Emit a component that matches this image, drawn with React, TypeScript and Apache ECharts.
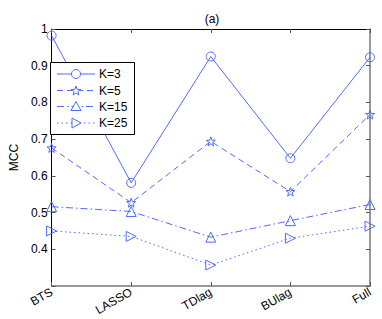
import React, { useEffect, useRef } from "react";
import * as echarts from "echarts";

const categories = ["BTS", "LASSO", "TDlag", "BUlag", "Full"];
const seriesNames = ["K=3", "K=5", "K=15", "K=25"];
const k3 = [0.982, 0.581, 0.925, 0.648, 0.923];
const k5 = [0.676, 0.527, 0.694, 0.557, 0.767];
const k15 = [0.516, 0.503, 0.433, 0.478, 0.522];
const k25 = [0.45, 0.435, 0.357, 0.43, 0.463];
const yTicks = [0.4, 0.5, 0.6, 0.7, 0.8, 0.9, 1];

const BLUE = "#4f6bff";
const FONT = "'Liberation Sans', Arial, Helvetica, sans-serif";

const STAR =
  "path://M0,-10 L2.35,-3.24 L9.51,-3.09 L3.8,1.24 L5.88,8.09 L0,4 L-5.88,8.09 L-3.8,1.24 L-9.51,-3.09 L-2.35,-3.24 Z";
const RTRI = "path://M0,0 L10,5 L0,10 Z";

const dashes: any[] = ["solid", [6, 4], [7, 3, 1.5, 3], [1.5, 3]];

function starPoints(cx: number, cy: number, R: number) {
  const pts: number[][] = [];
  for (let i = 0; i < 10; i++) {
    const r = i % 2 === 0 ? R : R * 0.4;
    const a = -Math.PI / 2 + (i * Math.PI) / 5;
    pts.push([cx + r * Math.cos(a), cy + r * Math.sin(a)]);
  }
  return pts;
}

export default function App() {
  const ref = useRef<HTMLDivElement>(null);
  useEffect(() => {
    if (!ref.current) return;
    const chart = echarts.init(ref.current, undefined, { renderer: "svg" });
    const mk = (name: string, data: number[], symbol: string, size: number, type: any) => ({
      name,
      type: "line",
      data,
      symbol,
      symbolSize: size,
      showAllSymbol: true,
      lineStyle: { color: BLUE, width: 1, type },
      itemStyle: { color: "rgba(255,255,255,0)", borderColor: BLUE, borderWidth: 1 },
      emphasis: { disabled: true },
      z: 3,
    });

    // legend built from graphic elements
    const lx = 50, ly = 62, lw = 84, lh = 72;
    const rows = [74, 90.5, 106.5, 123];
    const legendEls: any[] = [
      {
        type: "rect",
        shape: { x: lx + 0.5, y: ly + 0.5, width: lw, height: lh },
        style: { fill: "#fff", stroke: "#000", lineWidth: 1 },
        z: 10,
      },
    ];
    rows.forEach((y, i) => {
      const d = dashes[i];
      legendEls.push({
        type: "line",
        shape: { x1: 57, y1: y, x2: 95, y2: y },
        style: { stroke: BLUE, lineWidth: 1, lineDash: d === "solid" ? null : d },
        z: 11,
      });
      const mstyle = { fill: "#fff", stroke: BLUE, lineWidth: 1 };
      if (i === 0) {
        legendEls.push({ type: "circle", shape: { cx: 76, cy: y, r: 4.5 }, style: mstyle, z: 12 });
      } else if (i === 1) {
        legendEls.push({ type: "polygon", shape: { points: starPoints(76, y + 0.5, 5) }, style: mstyle, z: 12 });
      } else if (i === 2) {
        legendEls.push({
          type: "polygon",
          shape: { points: [[76, y - 5], [81, y + 4], [71, y + 4]] },
          style: mstyle,
          z: 12,
        });
      } else {
        legendEls.push({
          type: "polygon",
          shape: { points: [[72, y - 5], [81, y], [72, y + 5]] },
          style: mstyle,
          z: 12,
        });
      }
      legendEls.push({
        type: "text",
        x: 99,
        y,
        style: {
          text: seriesNames[i],
          fill: "#000",
          font: `12px ${FONT}`,
          verticalAlign: "middle",
          align: "left",
        },
        z: 12,
      });
    });

    chart.setOption({
      animation: false,
      title: {
        text: "(a)",
        left: 207,
        top: 8,
        textAlign: "center",
        textStyle: { fontFamily: FONT, fontSize: 12, fontWeight: "normal", color: "#000" },
      },
      grid: { left: 43, right: 12, top: 29, bottom: 33 },
      graphic: legendEls,
      xAxis: [
        {
          type: "category",
          data: categories,
          boundaryGap: false,
          axisLine: { lineStyle: { color: "#777", width: 1.5 } },
          axisTick: { inside: true, length: 4, lineStyle: { color: "#555" } },
          axisLabel: { rotate: 30, margin: 5, fontFamily: FONT, fontSize: 12, color: "#000" },
          splitLine: { show: false },
        },
        {
          type: "category",
          data: categories,
          boundaryGap: false,
          position: "top",
          axisLine: { lineStyle: { color: "#000", width: 1 } },
          axisTick: { inside: true, length: 4, lineStyle: { color: "#555" } },
          axisLabel: { show: false },
          splitLine: { show: false },
        },
      ],
      yAxis: [
        {
          type: "value",
          min: 0.3,
          max: 1,
          interval: 0.1,
          name: "MCC",
          nameLocation: "middle",
          nameGap: 28,
          nameTextStyle: { fontFamily: FONT, fontSize: 12, color: "#000" },
          axisLine: { show: true, lineStyle: { color: "#000", width: 1 } },
          axisTick: { show: true, inside: true, length: 4, lineStyle: { color: "#555" } },
          axisLabel: {
            margin: 4,
            fontFamily: FONT,
            fontSize: 12,
            color: "#000",
            formatter: (v: number) => {
              const r = Math.round(v * 10) / 10;
              return yTicks.some((t) => Math.abs(t - r) < 1e-6) ? String(r) : "";
            },
          },
          splitLine: { show: false },
        },
        {
          type: "value",
          min: 0.3,
          max: 1,
          interval: 0.1,
          position: "right",
          axisLine: { show: true, lineStyle: { color: "#777", width: 1.5 } },
          axisTick: { show: true, inside: true, length: 4, lineStyle: { color: "#555" } },
          axisLabel: { show: false },
          splitLine: { show: false },
        },
      ],
      series: [
        mk(seriesNames[0], k3, "circle", 9, dashes[0]),
        mk(seriesNames[1], k5, STAR, 9, dashes[1]),
        mk(seriesNames[2], k15, "triangle", 10, dashes[2]),
        mk(seriesNames[3], k25, RTRI, 10, dashes[3]),
      ],
    });
    return () => chart.dispose();
  }, []);
  return (
    <div
      ref={ref}
      style={{ width: 382, height: 319, position: "absolute", left: 0, top: 0, background: "#fff" }}
    />
  );
}
